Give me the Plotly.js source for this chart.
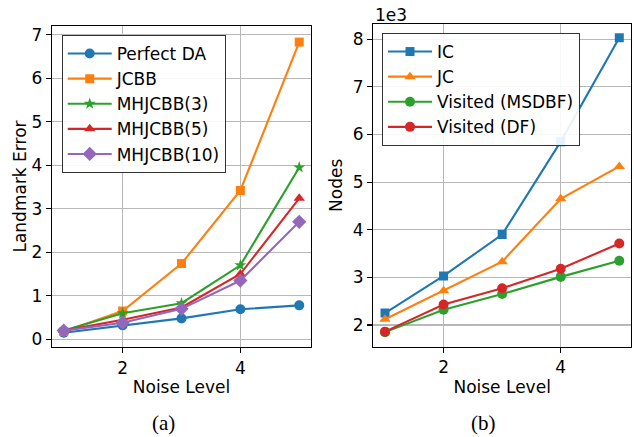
<!DOCTYPE html>
<html>
<head>
<meta charset="utf-8">
<script src="https://cdn.plot.ly/plotly-3.0.1.min.js"></script>
<style>html,body{margin:0;padding:0;background:#fff;}#chart{width:634px;height:437px;}</style>
</head>
<body>
<div id="chart"></div>
<script>
// ---- data ----
const noiseLevels = [1, 2, 3, 4, 5];

// (a) Landmark error
const perfectDA = [0.15, 0.32, 0.48, 0.69, 0.78];
const jcbb      = [0.18, 0.65, 1.74, 3.42, 6.83];
const mhjcbb3   = [0.20, 0.60, 0.83, 1.70, 3.95];
const mhjcbb5   = [0.20, 0.45, 0.73, 1.50, 3.24];
const mhjcbb10  = [0.20, 0.38, 0.70, 1.35, 2.70];

// (b) Nodes, in thousands (axis multiplier 1e3)
const icNodesK      = [2.25, 3.03, 3.90, 5.85, 8.03];
const jcNodesK      = [2.12, 2.72, 3.33, 4.65, 5.33];
const msdbfNodesK   = [1.85, 2.32, 2.65, 3.01, 3.35];
const dfNodesK      = [1.86, 2.43, 2.77, 3.18, 3.71];

const xTicks = [2, 4];
const captions = ["(a)", "(b)"];

// ---- styling ----
const C = {blue:'#1f77b4', orange:'#ff7f0e', green:'#2ca02c', red:'#d62728', purple:'#9467bd'};
const FONT = 'DejaVu Sans, sans-serif';
function tr(name, y, color, symbol, size, xa, ya, legend) {
  return {
    x: noiseLevels, y: y, name: name, type: 'scatter', mode: 'lines+markers',
    line: {color: color, width: 2.1},
    marker: {color: color, symbol: symbol, size: size},
    xaxis: xa, yaxis: ya, legend: legend
  };
}
const data = [
  tr('Perfect DA', perfectDA, C.blue,   'circle',      10, 'x', 'y', 'legend'),
  tr('JCBB',       jcbb,      C.orange, 'square',       9, 'x', 'y', 'legend'),
  tr('MHJCBB(3)',  mhjcbb3,   C.green,  'star',         9, 'x', 'y', 'legend'),
  tr('MHJCBB(5)',  mhjcbb5,   C.red,    'triangle-up', 10, 'x', 'y', 'legend'),
  tr('MHJCBB(10)', mhjcbb10,  C.purple, 'diamond',     11, 'x', 'y', 'legend'),
  tr('IC',              icNodesK,    C.blue,   'square',       9, 'x2', 'y2', 'legend2'),
  tr('JC',              jcNodesK,    C.orange, 'triangle-up', 10, 'x2', 'y2', 'legend2'),
  tr('Visited (MSDBF)', msdbfNodesK, C.green,  'circle',      10, 'x2', 'y2', 'legend2'),
  tr('Visited (DF)',    dfNodesK,    C.red,    'circle',      10, 'x2', 'y2', 'legend2')
];

const W = 634, H = 437;
const axCommon = {
  showline: true, linecolor: '#000', linewidth: 1.3, mirror: true,
  showgrid: true, gridcolor: '#b8b8b8', gridwidth: 1.2, zeroline: false,
  ticks: 'outside', ticklen: 5, tickwidth: 1.2, tickcolor: '#000',
  tickfont: {family: FONT, size: 17, color: '#000'}
};
function xAxis(domain, anchor) {
  return Object.assign({}, axCommon, {
    domain: domain, anchor: anchor, range: [0.8, 5.2], tickvals: xTicks,
    title: {text: 'Noise Level', font: {family: FONT, size: 17, color: '#000'}, standoff: 4}
  });
}
const legendCommon = {
  xanchor: 'left', yanchor: 'top',
  bgcolor: 'rgba(255,255,255,0.9)', bordercolor: '#333', borderwidth: 1,
  font: {family: FONT, size: 17, color: '#000'}, tracegroupgap: 0, itemwidth: 44
};
const layout = {
  width: W, height: H, margin: {l: 0, r: 0, t: 0, b: 0},
  paper_bgcolor: '#fff', plot_bgcolor: '#fff',
  font: {family: FONT, size: 17, color: '#000'},
  xaxis: xAxis([52/W, 311/W], 'y'),
  xaxis2: xAxis([373.3/W, 631/W], 'y2'),
  yaxis: Object.assign({}, axCommon, {
    domain: [1 - 347/H, 1 - 26/H], anchor: 'x', range: [-0.177, 7.2], dtick: 1,
    title: {text: 'Landmark Error', font: {family: FONT, size: 17, color: '#000'}, standoff: 0}
  }),
  yaxis2: Object.assign({}, axCommon, {
    domain: [1 - 346.7/H, 1 - 24/H], anchor: 'x2', range: [1.544, 8.32], dtick: 1,
    title: {text: 'Nodes', font: {family: FONT, size: 17, color: '#000'}, standoff: 5}
  }),
  legend: Object.assign({x: 61.7/W, y: 1 - 35/H}, legendCommon),
  legend2: Object.assign({x: 382/W, y: 1 - 33/H}, legendCommon),
  annotations: [
    {text: '1e3', xref: 'paper', yref: 'paper', x: 373/W, y: 1 - 15/H,
     xanchor: 'left', yanchor: 'middle', showarrow: false,
     font: {family: FONT, size: 17, color: '#000'}},
    {text: captions[0], xref: 'paper', yref: 'paper', x: 163/W, y: 1 - 423/H,
     xanchor: 'center', yanchor: 'middle', showarrow: false,
     font: {family: 'Liberation Serif, serif', size: 21, color: '#000'}},
    {text: captions[1], xref: 'paper', yref: 'paper', x: 483/W, y: 1 - 423/H,
     xanchor: 'center', yanchor: 'middle', showarrow: false,
     font: {family: 'Liberation Serif, serif', size: 21, color: '#000'}}
  ]
};
Plotly.newPlot('chart', data, layout, {staticPlot: true, displayModeBar: false});
</script>
</body>
</html>
